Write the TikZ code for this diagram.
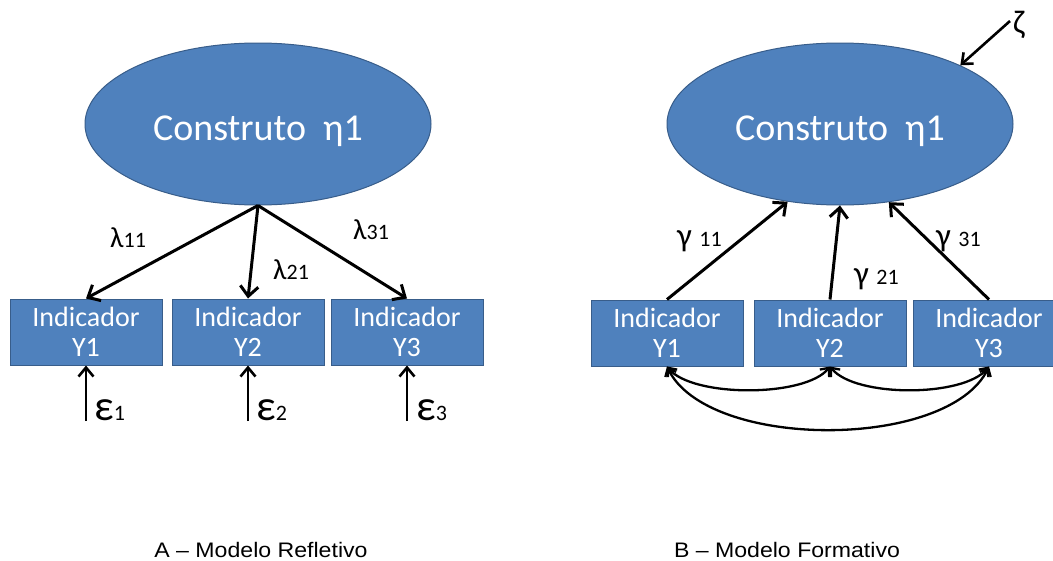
\documentclass[tikz,border=0pt]{standalone}
\usepackage{fontspec}
\setmainfont{Carlito}
\newfontfamily\capfont{Liberation Sans}
\usetikzlibrary{shapes.geometric,arrows.meta}
\definecolor{boxblue}{RGB}{79,129,189}
\definecolor{boxedge}{RGB}{56,93,138}
\begin{document}
\begin{tikzpicture}[x=1pt,y=-1pt,
  construct/.style={ellipse, fill=boxblue, draw=boxedge, line width=1pt,
    minimum width=346pt, minimum height=162pt, inner sep=0pt, text=white,
    font=\fontsize{38}{42}\selectfont},
  indbox/.style={rectangle, fill=boxblue, draw=boxedge, line width=1pt,
    minimum width=152pt, minimum height=66pt, inner sep=0pt, text=white,
    align=center, font=\fontsize{28}{30}\selectfont},
  arr/.style={line width=3pt, -{Straight Barb[length=10pt,width=18pt]}},
  earr/.style={line width=2.6pt, -{Straight Barb[length=9pt,width=15pt]}},
  carr/.style={line width=2.3pt, {Straight Barb[length=7pt,width=12pt]}-{Straight Barb[length=7pt,width=12pt]}},
  lab/.style={anchor=base west, inner sep=0pt, font=\fontsize{29}{32}\selectfont},
  glab/.style={anchor=base west, inner sep=0pt, font=\fontsize{33}{36}\selectfont},
  elab/.style={anchor=base west, inner sep=0pt, font=\fontsize{43}{46}\selectfont},
  capt/.style={inner sep=0pt, text=black, font=\capfont\fontsize{21}{24}\selectfont}
]
\useasboundingbox (0,0) rectangle (1053,560);
\fill[white] (0,0) rectangle (1053,560);
\newcommand{\dg}[1]{{\fontsize{22}{24}\selectfont #1}}
\newcommand{\ctext}{\raisebox{-16pt}[0pt][0pt]{Construto\ \ η1}}

% ---- A: reflective model ----
\node[construct] (eA) at (258,124) {\ctext};
\node[indbox] (a1) at (86,332) {Indicador\\Y1};
\node[indbox] (a2) at (248,332) {Indicador\\Y2};
\node[indbox] (a3) at (407,332) {Indicador\\Y3};

\draw[arr] (eA.south) -- (a1.north);
\draw[arr] (eA.south) -- (a2.north);
\draw[arr] (eA.south) -- (a3.north);

\node[lab] (l11) at (110,247) {λ\dg{11}};
\node[lab] (l21) at (273,279) {λ\dg{21}};
\node[lab] (l31) at (353,239) {λ\dg{31}};

\coordinate (ea1) at (86,421);
\coordinate (ea2) at (248,421);
\coordinate (ea3) at (407,421);
\draw[earr] (ea1) -- (a1.south);
\draw[earr] (ea2) -- (a2.south);
\draw[earr] (ea3) -- (a3.south);
\node[elab] (e1) at (94,420) {ε\dg{1}};
\node[elab] (e2) at (256,420) {ε\dg{2}};
\node[elab] (e3) at (416,420) {ε\dg{3}};

% ---- B: formative model ----
\node[construct] (eB) at (840,124) {\ctext};
\node[indbox] (b1) at (667,333) {Indicador\\Y1};
\node[indbox] (b2) at (830,333) {Indicador\\Y2};
\begin{scope}
\clip (0,0) rectangle (1053,560);
\node[indbox] (b3) at (989,333) {Indicador\\Y3};
\end{scope}

\draw[arr] (b1.north) -- (eB.236);
\draw[arr] (b2.north) -- (eB.south);
\draw[arr] (b3.north) -- (eB.302);

\node[glab] (g11) at (677,246) {γ \dg{11}};
\node[glab] (g21) at (854,284) {γ \dg{21}};
\node[glab] (g31) at (936,246) {γ \dg{31}};

\coordinate (zt) at (1010,21);
\draw[earr] (zt) -- (eB.26);
\node[glab] (zeta) at (1013,33) {ζ};

\draw[carr] (b1.south) .. controls +(25,31) and +(-25,31) .. (b2.south);
\draw[carr] (b2.south) .. controls +(25,31) and +(-25,31) .. (b3.south);
\draw[carr] (b1.south) .. controls +(40,84) and +(-40,84) .. (b3.south);

% ---- captions ----
\node[capt] (ca) at (261,550) {\scalebox{1.1}[1]{A – Modelo Refletivo}};
\node[capt] (cb) at (787,550) {\scalebox{1.1}[1]{B – Modelo Formativo}};
\end{tikzpicture}
\end{document}
